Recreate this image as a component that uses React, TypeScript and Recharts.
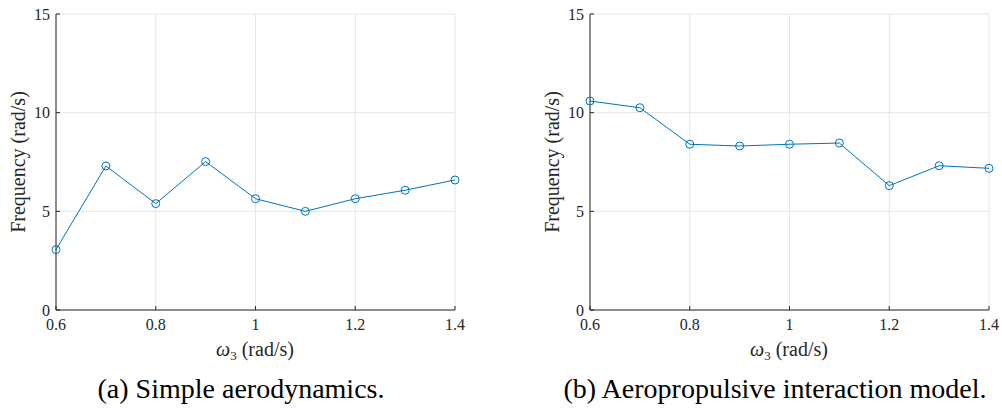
import { LineChart, Line, XAxis, YAxis, CartesianGrid } from 'recharts';

const omega = [0.6, 0.7, 0.8, 0.9, 1.0, 1.1, 1.2, 1.3, 1.4];
const simpleFreq = [3.06, 7.3, 5.39, 7.52, 5.64, 5.0, 5.64, 6.07, 6.59];
const aeroFreq = [10.59, 10.25, 8.4, 8.31, 8.4, 8.46, 6.3, 7.31, 7.18];
const xTicks = [0.6, 0.8, 1, 1.2, 1.4];
const yTicks = [0, 5, 10, 15];

const captions = ['(a) Simple aerodynamics.', '(b) Aeropropulsive interaction model.'];

const FONT = "'Liberation Serif', 'Times New Roman', 'DejaVu Serif', serif";
const AXIS = '#262626';
const BLUE = '#0072BD';

function Panel({ values, left, caption }: { values: number[]; left: number; caption: string }) {
  const data = omega.map((w, i) => ({ w, f: values[i] }));
  const tickStyle = { fontSize: 16, fill: AXIS, style: { fontFamily: FONT } };
  return (
    <div style={{ position: 'absolute', left, top: 0, width: 470, height: 408, fontFamily: FONT }}>
      <LineChart
        width={470}
        height={345}
        data={data}
        margin={{ top: 14, right: 15, bottom: 0, left: 0 }}
        style={{ fontFamily: FONT }}
      >
        <CartesianGrid stroke="#e6e6e6" strokeWidth={1} />
        <XAxis
          dataKey="w"
          type="number"
          domain={[0.6, 1.4]}
          ticks={xTicks}
          height={35}
          stroke={AXIS}
          tickSize={-4}
          tickMargin={13}
          tick={tickStyle}
        />
        <XAxis
          xAxisId="t"
          orientation="top"
          dataKey="w"
          type="number"
          domain={[0.6, 1.4]}
          ticks={xTicks}
          height={0}
          stroke={AXIS}
          tickSize={-4}
          tickFormatter={() => ''}
        />
        <YAxis
          type="number"
          domain={[0, 15]}
          ticks={yTicks}
          width={56}
          stroke={AXIS}
          tickSize={-4}
          tickMargin={10}
          tick={tickStyle}
        />
        <YAxis
          yAxisId="r"
          orientation="right"
          type="number"
          domain={[0, 15]}
          ticks={yTicks}
          width={0}
          stroke={AXIS}
          tickSize={-4}
          tickFormatter={() => ''}
        />
        <Line
          dataKey="f"
          stroke={BLUE}
          strokeWidth={1}
          dot={{ r: 4, stroke: BLUE, strokeWidth: 1, fill: 'none' }}
          isAnimationActive={false}
        />
      </LineChart>
      <div
        style={{
          position: 'absolute',
          left: 18,
          top: 162,
          transform: 'translate(-50%, -50%) rotate(-90deg)',
          fontSize: 20,
          color: AXIS,
          whiteSpace: 'nowrap',
          lineHeight: 1,
        }}
      >
        Frequency (rad/s)
      </div>
      <div
        style={{
          position: 'absolute',
          left: 255,
          top: 349,
          transform: 'translate(-50%, -50%)',
          fontSize: 20,
          color: AXIS,
          whiteSpace: 'nowrap',
          lineHeight: 1,
        }}
      >
        <i>ω</i>
        <span style={{ fontSize: 13, position: 'relative', top: 4 }}>3</span> (rad/s)
      </div>
      <div
        style={{
          position: 'absolute',
          left: 241,
          top: 389,
          transform: 'translate(-50%, -50%)',
          fontSize: 28,
          color: '#000',
          whiteSpace: 'nowrap',
          lineHeight: 1,
        }}
      >
        {caption}
      </div>
    </div>
  );
}

export default function App() {
  return (
    <div style={{ position: 'absolute', left: 0, top: 0, width: 1002, height: 408, background: '#fff' }}>
      <Panel values={simpleFreq} left={0} caption={captions[0]} />
      <Panel values={aeroFreq} left={534} caption={captions[1]} />
    </div>
  );
}
